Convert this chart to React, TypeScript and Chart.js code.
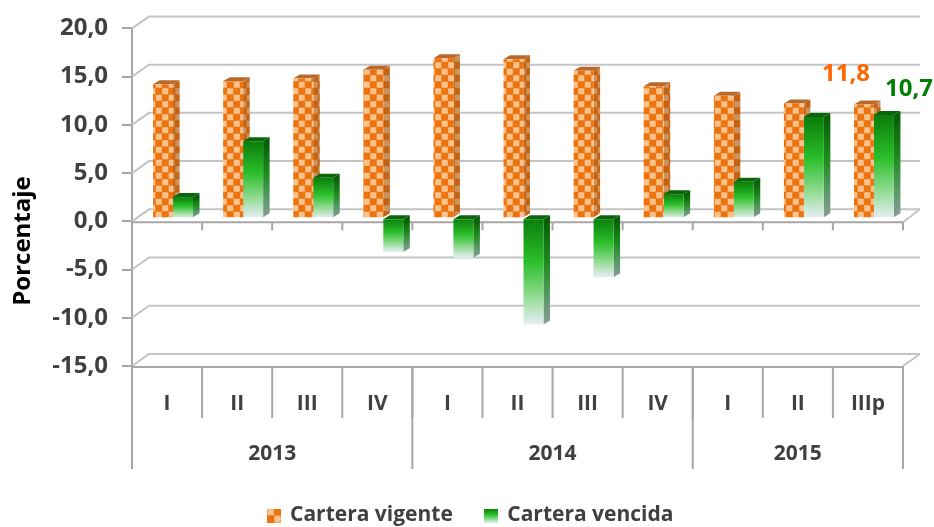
import React, { useEffect, useRef } from "react";
import { Chart, registerables } from "chart.js";

Chart.register(...registerables);

const quarters = ["I", "II", "III", "IV", "I", "II", "III", "IV", "I", "II", "IIIp"];
const years = ["2013", "2014", "2015"];
const yearSpans = [4, 4, 3];
const carteraVigente = [13.9, 14.2, 14.5, 15.4, 16.6, 16.5, 15.3, 13.7, 12.7, 11.9, 11.8];
const carteraVencida = [2.2, 8.0, 4.2, -3.5, -4.1, -11.0, -6.1, 2.5, 3.8, 10.5, 10.7];
const seriesNames = ["Cartera vigente", "Cartera vencida"];
const axisTitle = "Porcentaje";

const FONT = "'Open Sans', sans-serif";
const TEXT = "#404040";
const GRID = "#c4c4c4";
const AXIS = "#a6a6a6";
const WALL_X = 17;
const WALL_Y = 12;
const DEPTH_X = 6.5;
const DEPTH_Y = 4;
const fmt = (v: number) => v.toFixed(1).replace(".", ",");

function makeChecker(size: number, dark: string, light: string) {
  const c = document.createElement("canvas");
  c.width = size;
  c.height = size;
  const g = c.getContext("2d")!;
  g.fillStyle = dark;
  g.fillRect(0, 0, size, size);
  g.fillStyle = light;
  const h = size / 2;
  g.fillRect(0.25, 0.25, h - 0.5, h - 0.5);
  g.fillRect(h + 0.25, h + 0.25, h - 0.5, h - 0.5);
  return c;
}

function makeGreenSwatch() {
  const c = document.createElement("canvas");
  c.width = 14;
  c.height = 14;
  const g = c.getContext("2d")!;
  const gr = g.createLinearGradient(0, 0, 0, 14);
  gr.addColorStop(0, "#0a7d0a");
  gr.addColorStop(0.45, "#2cc02c");
  gr.addColorStop(1, "#dff0e4");
  g.fillStyle = gr;
  g.fillRect(0, 0, 14, 14);
  return c;
}

const poly = (ctx: CanvasRenderingContext2D, pts: number[][]) => {
  ctx.beginPath();
  pts.forEach(([x, y], i) => (i ? ctx.lineTo(x, y) : ctx.moveTo(x, y)));
  ctx.closePath();
};

const line = (ctx: CanvasRenderingContext2D, pts: number[][], color: string, w = 2) => {
  ctx.beginPath();
  pts.forEach(([x, y], i) => (i ? ctx.lineTo(x, y) : ctx.moveTo(x, y)));
  ctx.strokeStyle = color;
  ctx.lineWidth = w;
  ctx.stroke();
};

function threeD(pattern: CanvasPattern) {
  return {
    id: "threeD",
    afterLayout(chart: any) {
      // the legend keeps wide gaps between items but sits low on the page
      chart.legend.top = 472;
    },
    beforeDatasetsDraw(chart: any) {
      const { ctx, chartArea: a, scales } = chart;
      const y = scales.y;
      ctx.save();
      // wall and floor lines
      y.ticks.forEach((t: any) => {
        const py = y.getPixelForValue(t.value);
        line(ctx, [[a.left, py], [a.left + WALL_X, py - WALL_Y], [a.right + WALL_X, py - WALL_Y]], GRID);
      });
      const zero = y.getPixelForValue(0);
      const bottom = y.getPixelForValue(y.min);
      line(ctx, [[a.right, zero + 1], [a.right + WALL_X, zero - WALL_Y]], GRID);
      line(ctx, [[a.right, bottom], [a.right + WALL_X, bottom - WALL_Y]], GRID);
      // front lines of the category floor, with tick marks
      line(ctx, [[a.left, zero + 1], [a.right, zero + 1]], AXIS);
      const n = quarters.length;
      const step = (a.right - a.left) / n;
      for (let i = 1; i <= n; i++) {
        line(ctx, [[a.left + step * i, zero + 1], [a.left + step * i, zero + 9]], AXIS);
      }
      // multilevel category box
      line(ctx, [[a.left, bottom + 1], [a.right, bottom + 1]], AXIS);
      const lvl1 = bottom + 52;
      const lvl2 = bottom + 103;
      for (let i = 0; i <= n; i++) {
        line(ctx, [[a.left + step * i, bottom], [a.left + step * i, lvl1]], AXIS);
      }
      let acc = 0;
      ctx.textAlign = "center";
      ctx.textBaseline = "middle";
      ctx.font = `700 21px ${FONT}`;
      line(ctx, [[a.left, bottom], [a.left, lvl2]], AXIS);
      yearSpans.forEach((s, i) => {
        ctx.fillStyle = TEXT;
        ctx.fillText(years[i], a.left + step * (acc + s / 2), bottom + 88);
        acc += s;
        line(ctx, [[a.left + step * acc, bottom], [a.left + step * acc, lvl2]], AXIS);
      });
      // axis title
      ctx.save();
      ctx.translate(23, 241);
      ctx.rotate(-Math.PI / 2);
      ctx.fillStyle = "#000000";
      ctx.font = `700 24px ${FONT}`;
      ctx.fillText(axisTitle, 0, 0);
      ctx.restore();
      ctx.restore();
      // bars sit in the middle of the floor's depth
      ctx.save();
      ctx.translate(6, -3);
      // side and top faces go under every front face
      [0, 1].forEach((index) => {
        const isOrange = index === 0;
        chart.getDatasetMeta(index).data.forEach((el: any) => {
          const p = el.getProps(["x", "y", "base", "width"], true);
          const l = p.x - p.width / 2;
          const r = p.x + p.width / 2;
          const top = Math.min(p.y, p.base);
          const bot = Math.max(p.y, p.base);
          poly(ctx, [[r, top], [r + DEPTH_X, top - DEPTH_Y], [r + DEPTH_X, bot - DEPTH_Y], [r, bot]]);
          if (isOrange) {
            ctx.fillStyle = pattern;
            ctx.fill();
            ctx.fillStyle = "rgba(130,70,20,0.38)";
            ctx.fill();
          } else {
            const g = ctx.createLinearGradient(0, top, 0, bot);
            g.addColorStop(0, "#075d07");
            g.addColorStop(0.4, "#1c8a1c");
            g.addColorStop(0.75, "#5a9a6a");
            g.addColorStop(1, "#8a9a96");
            ctx.fillStyle = g;
            ctx.fill();
          }
          poly(ctx, [[l, top], [l + DEPTH_X, top - DEPTH_Y], [r + DEPTH_X, top - DEPTH_Y], [r, top]]);
          ctx.fillStyle = isOrange ? "#b8692c" : "#0a660a";
          ctx.fill();
        });
      });
    },
    afterDatasetsDraw(chart: any) {
      const { ctx } = chart;
      ctx.restore();
      const last = quarters.length - 1;
      const a = chart.getDatasetMeta(0).data[last];
      const b = chart.getDatasetMeta(1).data[last];
      ctx.save();
      ctx.textAlign = "center";
      ctx.textBaseline = "middle";
      ctx.font = `700 24px ${FONT}`;
      ctx.fillStyle = "#ff6600";
      ctx.fillText(fmt(carteraVigente[last]), a.x - 12, a.y - 33);
      ctx.fillStyle = "#008000";
      ctx.fillText(fmt(carteraVencida[last]), b.x + 31, b.y - 29);
      ctx.restore();
    },
  };
}

function greenFront(c: any) {
  if (c.type !== "data" || !c.chart.scales.y) return "#1c9a1c";
  const y = c.chart.scales.y;
  const p0 = y.getPixelForValue(0);
  const p1 = y.getPixelForValue(c.raw);
  const g = c.chart.ctx.createLinearGradient(0, Math.min(p0, p1), 0, Math.max(p0, p1));
  g.addColorStop(0, "#0a7d0a");
  g.addColorStop(0.42, "#2cc02c");
  g.addColorStop(0.75, "#97dc97");
  g.addColorStop(1, "#e6eff6");
  return g;
}

export default function App() {
  const ref = useRef<HTMLCanvasElement>(null);
  useEffect(() => {
    const canvas = ref.current!;
    const tile = makeChecker(13, "#ec7410", "#fbc28c");
    const pattern = canvas.getContext("2d")!.createPattern(tile, "repeat")!;
    const swatches = [makeChecker(14, "#ec7410", "#fbc28c"), makeGreenSwatch()];
    const chart = new Chart(canvas, {
      type: "bar",
      data: {
        labels: quarters,
        datasets: [
          { label: seriesNames[0], data: carteraVigente, backgroundColor: pattern as any, clip: false as any },
          { label: seriesNames[1], data: carteraVencida, backgroundColor: greenFront as any, clip: false as any },
        ],
      },
      plugins: [threeD(pattern) as any],
      options: {
        responsive: false,
        animation: false,
        layout: { padding: { top: 25, right: 31, left: 39, bottom: 0 } },
        datasets: { bar: { categoryPercentage: 0.57, barPercentage: 1 } },
        plugins: {
          tooltip: { enabled: false },
          legend: {
            position: "bottom",
            labels: {
              usePointStyle: true,
              pointStyleWidth: 11,
              padding: 33,
              font: { family: FONT, weight: 700, size: 21 },
              color: TEXT,
              generateLabels: () =>
                seriesNames.map((text, i) => ({
                  text,
                  pointStyle: swatches[i],
                  fontColor: TEXT,
                  datasetIndex: i,
                  lineWidth: 0,
                  hidden: false,
                })) as any,
            },
          },
        },
        scales: {
          x: {
            grid: { display: false },
            border: { display: false },
            ticks: {
              autoSkip: false,
              maxRotation: 0,
              padding: 17,
              color: TEXT,
              font: { family: FONT, weight: 700, size: 21 },
            },
            afterFit: (s: any) => {
              s.height = 97;
            },
          },
          y: {
            min: -15,
            max: 20,
            grid: { drawOnChartArea: false, color: AXIS, lineWidth: 2, tickLength: 10 },
            border: { color: AXIS, width: 2 },
            ticks: {
              stepSize: 5,
              padding: 14,
              color: TEXT,
              font: { family: FONT, weight: 700, size: 24 },
              callback: (v: any) => fmt(Number(v)),
            },
            afterFit: (s: any) => {
              s.width = 93;
            },
          },
        },
      },
    });
    return () => chart.destroy();
  }, []);
  return (
    <div style={{ position: "fixed", left: 0, top: 0, width: 934, height: 527, background: "#fff" }}>
      <canvas ref={ref} width={934} height={527} style={{ display: "block" }} />
    </div>
  );
}
